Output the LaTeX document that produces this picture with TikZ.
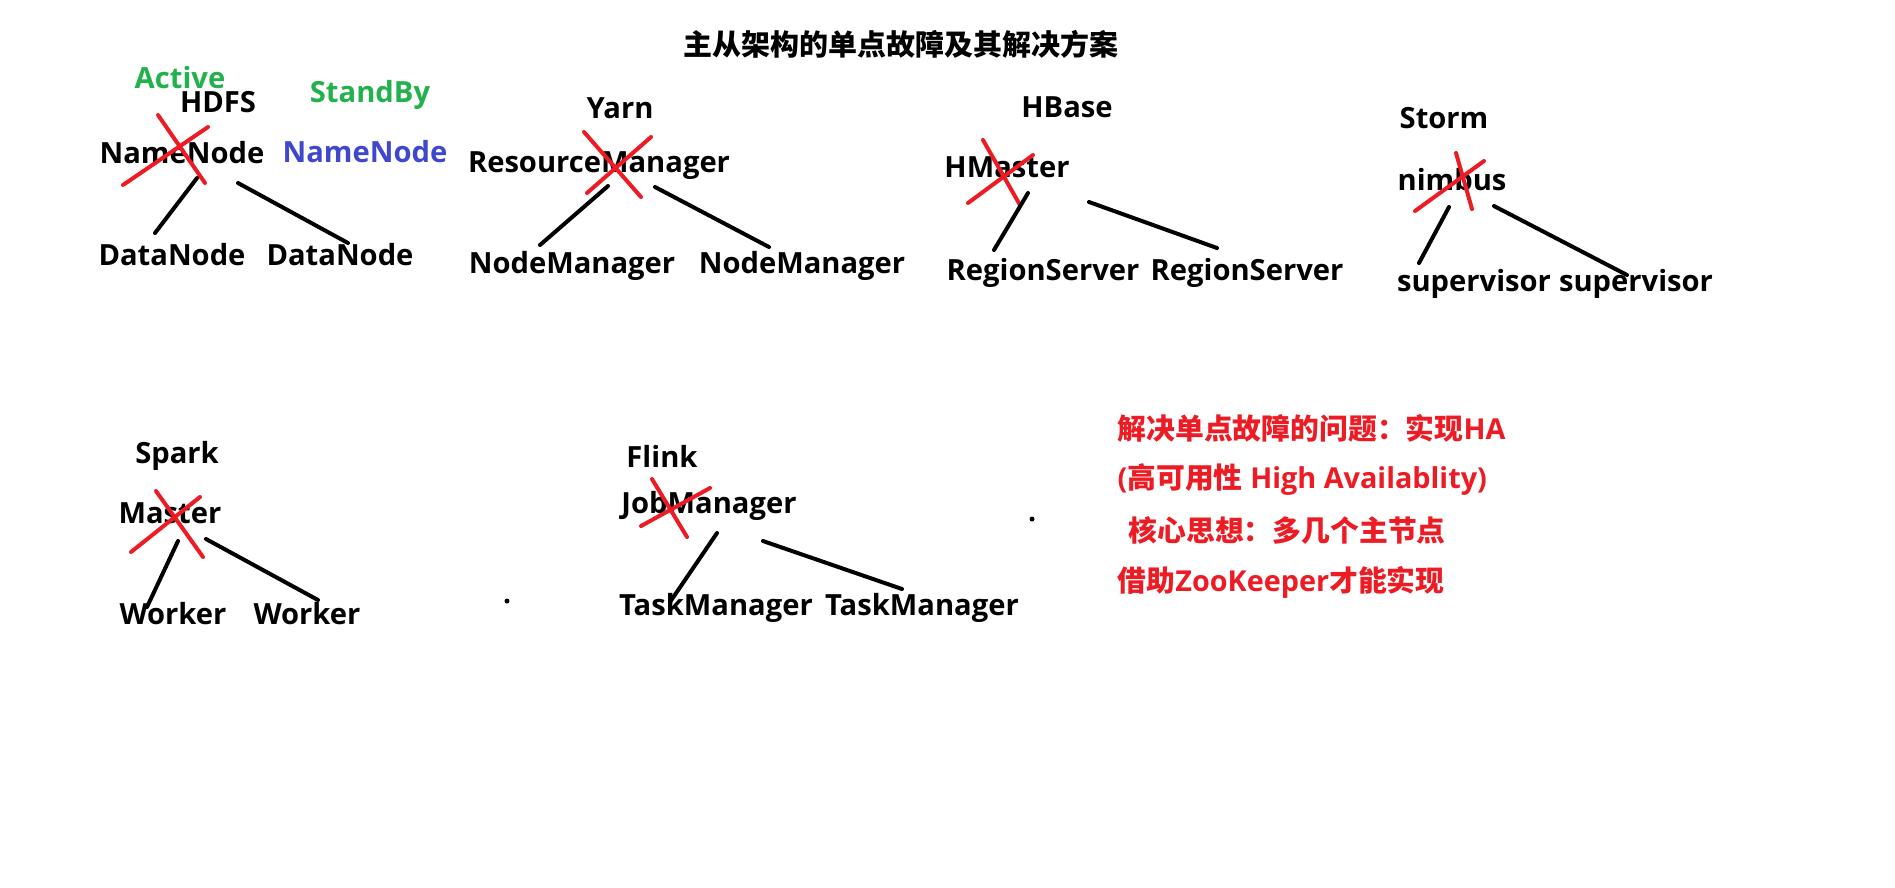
\documentclass[tikz,border=0pt]{standalone}
\usepackage{fontspec}
\setmainfont{Open Sans}
\newfontfamily\cjk{Noto Sans CJK SC}
\usetikzlibrary{calc}
\definecolor{paintred}{HTML}{ED1C24}
\definecolor{paintgreen}{HTML}{22B14C}
\definecolor{paintblue}{HTML}{3F48CC}

\begin{document}
\begin{tikzpicture}[x=0.1mm,y=-0.1mm,
    lbl/.style={font=\fontsize{8.3}{10}\selectfont\bfseries,anchor=base,inner sep=0pt},
    note/.style={font=\fontsize{8.2}{10}\selectfont\bfseries,text=paintred,anchor=base west,inner sep=0pt},
    cross/.style={draw=paintred,line width=0.4mm,line cap=round},
    link/.style={draw=black,line width=0.4mm,line cap=round}]
    \useasboundingbox (0,0) rectangle (1895,887);

    \node[lbl,font=\fontsize{8.25}{10}\selectfont\bfseries\cjk] (title) at (901,55) {主从架构的单点故障及其解决方案};

    % HDFS
    \node[lbl,text=paintgreen] (active) at (180,88) {Active};
    \node[lbl] (hdfs) at (218,112) {HDFS};
    \node[lbl,text=paintgreen] (standby) at (370,102) {StandBy};
    \node[lbl] (nn) at (182,163) {NameNode};
    \node[lbl,text=paintblue] (nnsb) at (365,162) {NameNode};
    \node[lbl] (dn1) at (172,265) {DataNode};
    \node[lbl] (dn2) at (340,265) {DataNode};
    \draw[cross] ($(nn.base)+(-24,-48)$) -- ($(nn.base)+(23,20)$);
    \draw[cross] ($(nn.base)+(26,-36)$) -- ($(nn.base)+(-59,22)$);
    \draw[link] ($(nn.base)+(15,15)$) -- ($(dn1.base)+(-17,-32)$);
    \draw[link] ($(nn.base)+(56,20)$) -- ($(dn2.base)+(8,-22)$);

    % Yarn
    \node[lbl] (yarn) at (620,118) {Yarn};
    \node[lbl] (rm) at (599,172) {ResourceManager};
    \node[lbl] (nm1) at (572,273) {NodeManager};
    \node[lbl] (nm2) at (802,273) {NodeManager};
    \draw[cross] ($(rm.base)+(-15,-40)$) -- ($(rm.base)+(42,25)$);
    \draw[cross] ($(rm.base)+(52,-35)$) -- ($(rm.base)+(-12,21)$);
    \draw[link] ($(rm.base)+(9,14)$) -- ($(nm1.base)+(-32,-28)$);
    \draw[link] ($(rm.base)+(56,15)$) -- ($(nm2.base)+(-33,-26)$);

    % HBase
    \node[lbl] (hbase) at (1067,117) {HBase};
    \node[lbl] (hm) at (1007,177) {HMaster};
    \node[lbl] (rs1) at (1043,280) {RegionServer};
    \node[lbl] (rs2) at (1247,280) {RegionServer};
    \draw[cross] ($(hm.base)+(-24,-37)$) -- ($(hm.base)+(13,28)$);
    \draw[cross] ($(hm.base)+(26,-22)$) -- ($(hm.base)+(-39,26)$);
    \draw[link] ($(hm.base)+(21,16)$) -- ($(rs1.base)+(-49,-30)$);
    \draw[link] ($(hm.base)+(82,25)$) -- ($(rs2.base)+(-30,-32)$);

    % Storm
    \node[lbl] (storm) at (1444,128) {Storm};
    \node[lbl] (nb) at (1452,190) {nimbus};
    \node[lbl] (sv1) at (1474,291) {supervisor};
    \node[lbl] (sv2) at (1636,291) {supervisor};
    \draw[cross] ($(nb.base)+(4,-37)$) -- ($(nb.base)+(20,19)$);
    \draw[cross] ($(nb.base)+(32,-29)$) -- ($(nb.base)+(-37,21)$);
    \draw[link] ($(nb.base)+(-3,17)$) -- ($(sv1.base)+(-55,-28)$);
    \draw[link] ($(nb.base)+(42,16)$) -- ($(sv2.base)+(-9,-16)$);

    % Spark
    \node[lbl] (spark) at (177,463) {Spark};
    \node[lbl] (ma) at (170,523) {Master};
    \node[lbl] (wk1) at (173,624) {Worker};
    \node[lbl] (wk2) at (307,624) {Worker};
    \draw[cross] ($(ma.base)+(-14,-32)$) -- ($(ma.base)+(33,34)$);
    \draw[cross] ($(ma.base)+(30,-26)$) -- ($(ma.base)+(-39,29)$);
    \draw[link] ($(ma.base)+(8,18)$) -- ($(wk1.base)+(-26,-17)$);
    \draw[link] ($(ma.base)+(36,16)$) -- ($(wk2.base)+(11,-24)$);
    \fill (507,601) circle (0.25mm);

    % Flink
    \node[lbl] (flink) at (662,467) {Flink};
    \node[lbl] (jm) at (709,513) {JobManager};
    \node[lbl] (tm1) at (716,615) {TaskManager};
    \node[lbl] (tm2) at (922,615) {TaskManager};
    \draw[cross] ($(jm.base)+(-57,-34)$) -- ($(jm.base)+(-22,24)$);
    \draw[cross] ($(jm.base)+(1,-25)$) -- ($(jm.base)+(-68,13)$);
    \draw[link] ($(jm.base)+(8,20)$) -- ($(tm1.base)+(-46,-13)$);
    \draw[link] ($(jm.base)+(54,28)$) -- ($(tm2.base)+(-20,-26)$);
    \fill (1032,519) circle (0.25mm);

    % HA
    \node[note] (ha1) at (1117,439) {{\cjk 解决单点故障的问题：实现}HA};
    \node[note] (ha2) at (1117,488) {({\cjk 高可用性} High Availablity)};
    \node[note] (ha3) at (1128,541) {\cjk 核心思想：多几个主节点};
    \node[note] (ha4) at (1117,591) {{\cjk 借助}ZooKeeper{\cjk 才能实现}};
\end{tikzpicture}
\end{document}
